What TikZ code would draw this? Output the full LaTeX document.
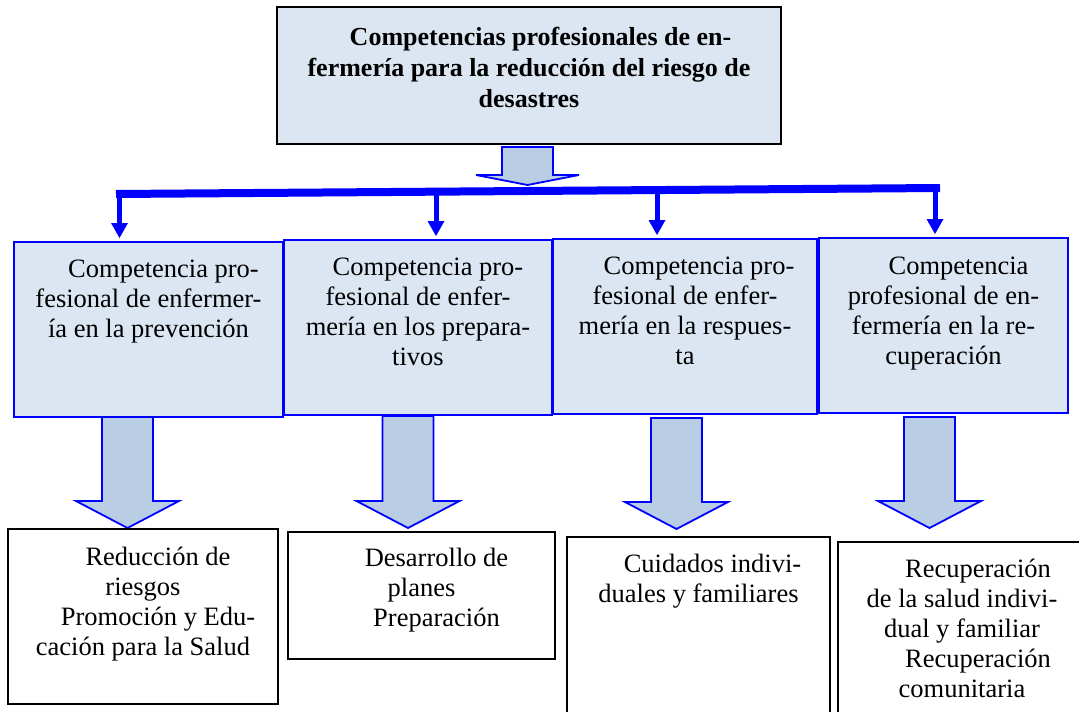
\documentclass[tikz,border=0pt]{standalone}
\usepackage{fontspec}
\setmainfont{Liberation Serif}
\usetikzlibrary{arrows.meta}
\definecolor{boxfill}{HTML}{DCE6F2}
\definecolor{arrowfill}{HTML}{B9CDE5}
\definecolor{linkblue}{HTML}{0000FF}
\tikzset{
 topbox/.style={draw=black, line width=1.5pt, fill=boxfill, inner sep=0pt, outer sep=0pt},
 midbox/.style={draw=linkblue, line width=2pt, fill=boxfill, inner sep=0pt, outer sep=0pt},
 lowbox/.style={draw=black, line width=1.8pt, fill=white, inner sep=0pt, outer sep=0pt},
 txt/.style={anchor=north, align=center, inner sep=0pt, font=\fontsize{26.5}{30}\selectfont},
 ttl/.style={anchor=north, align=center, inner sep=0pt, font=\fontsize{26}{31}\selectfont\bfseries},
 fatarrow/.style={draw=linkblue, line width=1.8pt, fill=arrowfill, line join=miter},
 busbar/.style={draw=linkblue, line width=8pt},
 drop/.style={draw=linkblue, line width=5pt, -{Triangle[width=17pt,length=15pt,line width=0pt]}, shorten >=4pt},
}
\newcommand\fatdown[4]{%
 \draw[fatarrow] (#1-25.5,#2) -- (#1+25.5,#2) -- (#1+25.5,#3) -- (#1+51.5,#3) -- (#1,#4) -- (#1-51.5,#3) -- (#1-25.5,#3) -- cycle;}
\begin{document}
\begin{tikzpicture}[x=1pt,y=-1pt]
\useasboundingbox (0,0) rectangle (1079,712);
\clip (0,0) rectangle (1079,712);
% top box
\node[topbox, minimum width=504pt, minimum height=137pt] (top) at (529,75.5) {};
\node[ttl] (toptxt) at (529,26.5) {\hspace*{23pt}Competencias profesionales de en-\\fermería para la reducción del riesgo de\\desastres};
% fat arrow below title
\fatdown{527.5}{147}{175}{185}
% bus bar
\coordinate (barL) at (116,194);
\coordinate (barR) at (940,188);
\draw[busbar] (barL) -- (barR);
% middle boxes
\node[midbox, minimum width=269pt, minimum height=175pt] (m1) at (148.5,329.5) {};
\node[midbox, minimum width=268pt, minimum height=175pt] (m2) at (418,327.5) {};
\node[midbox, minimum width=264pt, minimum height=175pt] (m3) at (685,326.5) {};
\node[midbox, minimum width=249pt, minimum height=175pt] (m4) at (943.5,325.5) {};
\node[txt] (m1t) at (148.5,260) {\hspace*{30pt}Competencia pro-\\fesional de enfermer-\\ía en la prevención};
\node[txt] (m2t) at (418,258) {\hspace*{20pt}Competencia pro-\\fesional de enfer-\\mería en los prepara-\\tivos};
\node[txt] (m3t) at (685,257) {\hspace*{28pt}Competencia pro-\\fesional de enfer-\\mería en la respues-\\ta};
\node[txt] (m4t) at (943.5,257) {\hspace*{30pt}Competencia\\profesional de en-\\fermería en la re-\\cuperación};
% drops from bar
\coordinate (s1) at (119.5,194);
\coordinate (s2) at (436,191.7);
\coordinate (s3) at (657,190);
\coordinate (s4) at (935,188);
\draw[drop] (s1) -- (s1 |- m1.north);
\draw[drop] (s2) -- (s2 |- m2.north);
\draw[drop] (s3) -- (s3 |- m3.north);
\draw[drop] (s4) -- (s4 |- m4.north);
% fat arrows to bottom boxes
\fatdown{127.5}{417}{501}{528}
\fatdown{408}{416}{501}{528}
\fatdown{676.5}{418}{502}{529}
\fatdown{929.5}{417}{501}{528}
% bottom boxes
\node[lowbox, minimum width=270pt, minimum height=175pt] (bA) at (143,616.5) {};
\node[lowbox, minimum width=267pt, minimum height=127pt] (bB) at (421.5,595.5) {};
\node[lowbox, minimum width=263pt, minimum height=193pt] (bC) at (698.5,633.5) {};
\node[lowbox, minimum width=248pt, minimum height=188pt] (bD) at (962,636) {};
\node[txt] (bAt) at (143,547) {\hspace*{30pt}Reducción de\\riesgos\\\hspace*{30pt}Promoción y Edu-\\cación para la Salud};
\node[txt] (bBt) at (421.5,548) {\hspace*{30pt}Desarrollo de\\planes\\\hspace*{30pt}Preparación};
\node[txt] (bCt) at (698.5,554) {\hspace*{28pt}Cuidados indivi-\\duales y familiares};
\node[txt] (bDt) at (962,559) {\hspace*{32pt}Recuperación\\de la salud indivi-\\dual y familiar\\\hspace*{32pt}Recuperación\\comunitaria};
\end{tikzpicture}
\end{document}
